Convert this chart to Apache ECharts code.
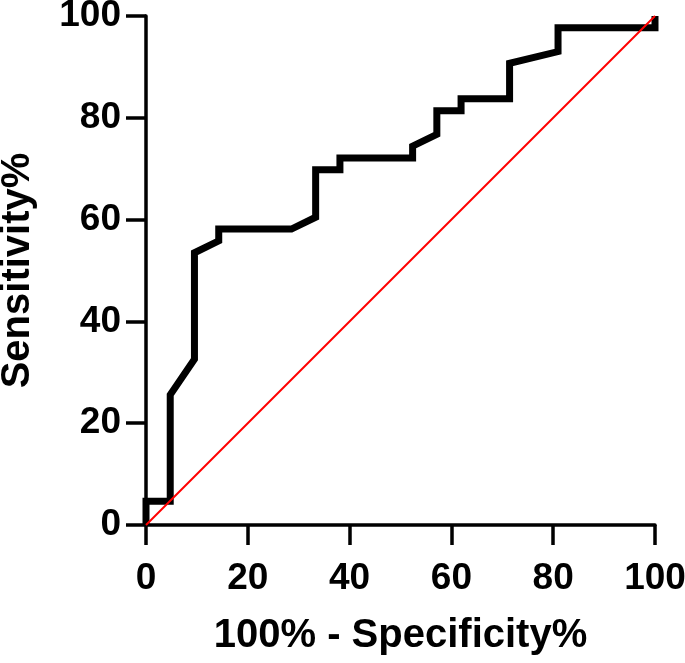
<!DOCTYPE html>
<html>
<head>
<meta charset="utf-8">
<script src="https://cdn.jsdelivr.net/npm/echarts@6/dist/echarts.min.js"></script>
<style>
html,body{margin:0;padding:0;background:#fff;}
#chart{width:685px;height:663px;}
</style>
</head>
<body>
<div id="chart"></div>
<script>
// ROC curve points: 100% - Specificity% (x) and Sensitivity% (y)
var rocX = [0, 0, 4.76, 4.76, 9.52, 9.52, 14.29, 14.29, 28.57, 33.33, 33.33, 38.10, 38.10, 52.38, 52.38, 57.14, 57.14, 61.90, 61.90, 71.43, 71.43, 80.95, 80.95, 100, 100];
var rocY = [0, 4.65, 4.65, 25.58, 32.56, 53.49, 55.81, 58.14, 58.14, 60.47, 69.77, 69.77, 72.09, 72.09, 74.42, 76.74, 81.40, 81.40, 83.72, 83.72, 90.70, 93.02, 97.67, 97.67, 100];
// Reference (chance) line
var refX = [0, 100];
var refY = [0, 100];
var xTicks = [0, 20, 40, 60, 80, 100];
var yTicks = [0, 20, 40, 60, 80, 100];
var xTitle = '100% - Specificity%';
var yTitle = 'Sensitivity%';

var rocData = rocX.map(function (x, i) { return [x, rocY[i]]; });
var refData = refX.map(function (x, i) { return [x, refY[i]]; });

var font = '"Liberation Sans", Arial, sans-serif';
function axisCommon() {
  return {
    type: 'value', min: 0, max: 100, interval: 20,
    axisLine: { show: true, onZero: false, lineStyle: { color: '#000', width: 3.5 } },
    axisTick: { show: true, length: 20, lineStyle: { color: '#000', width: 3.5 } },
    splitLine: { show: false },
    nameLocation: 'middle',
    nameTextStyle: { fontFamily: font, fontWeight: 'bold', fontSize: 40, color: '#000' },
    axisLabel: { fontFamily: font, fontWeight: 'bold', fontSize: 37, color: '#000' }
  };
}
var xa = axisCommon();
xa.name = xTitle; xa.nameGap = 91; xa.axisLabel.margin = 35;
var ya = axisCommon();
ya.name = yTitle; ya.nameGap = 108; ya.axisLabel.margin = 25;

var chart = echarts.init(document.getElementById('chart'));
chart.setOption({
  animation: false,
  backgroundColor: '#fff',
  grid: { left: 146, right: 30, top: 16, bottom: 138, containLabel: false, outerBoundsMode: 'none' },
  xAxis: xa,
  yAxis: ya,
  series: [
    {
      type: 'line', data: rocData, showSymbol: false, symbol: 'none',
      lineStyle: { color: '#000', width: 7, join: 'miter', cap: 'butt' }, z: 2
    },
    {
      type: 'line', data: refData, showSymbol: false, symbol: 'none',
      lineStyle: { color: '#ff0000', width: 2 }, z: 3
    }
  ]
});
</script>
</body>
</html>
